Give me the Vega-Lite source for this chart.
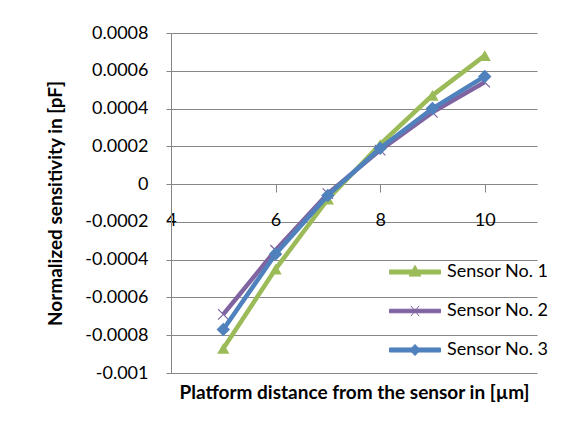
{
  "$schema": "https://vega.github.io/schema/vega-lite/v6.json",
  "width": 366,
  "height": 340,
  "autosize": {"type": "none"},
  "padding": {"left": 171, "top": 33, "right": 31, "bottom": 58},
  "background": "white",
  "config": {"view": {"stroke": null}, "font": "Lato"},
  "data": {"values": [
    {"sensor": "Sensor No. 1", "distance": 5, "sensitivity": -0.00087},
    {"sensor": "Sensor No. 1", "distance": 6, "sensitivity": -0.00045},
    {"sensor": "Sensor No. 1", "distance": 7, "sensitivity": -0.00008},
    {"sensor": "Sensor No. 1", "distance": 8, "sensitivity": 0.00021},
    {"sensor": "Sensor No. 1", "distance": 9, "sensitivity": 0.00047},
    {"sensor": "Sensor No. 1", "distance": 10, "sensitivity": 0.00068},
    {"sensor": "Sensor No. 2", "distance": 5, "sensitivity": -0.00069},
    {"sensor": "Sensor No. 2", "distance": 6, "sensitivity": -0.00035},
    {"sensor": "Sensor No. 2", "distance": 7, "sensitivity": -0.00005},
    {"sensor": "Sensor No. 2", "distance": 8, "sensitivity": 0.00018},
    {"sensor": "Sensor No. 2", "distance": 9, "sensitivity": 0.00038},
    {"sensor": "Sensor No. 2", "distance": 10, "sensitivity": 0.00054},
    {"sensor": "Sensor No. 3", "distance": 5, "sensitivity": -0.00077},
    {"sensor": "Sensor No. 3", "distance": 6, "sensitivity": -0.00037},
    {"sensor": "Sensor No. 3", "distance": 7, "sensitivity": -0.00006},
    {"sensor": "Sensor No. 3", "distance": 8, "sensitivity": 0.00019},
    {"sensor": "Sensor No. 3", "distance": 9, "sensitivity": 0.0004},
    {"sensor": "Sensor No. 3", "distance": 10, "sensitivity": 0.00057}
  ]},
  "encoding": {
    "x": {
      "field": "distance", "type": "quantitative",
      "scale": {"domain": [4, 11], "nice": false, "zero": false},
      "axis": {
        "values": [4, 6, 8, 10], "grid": false, "offset": -189,
        "domain": true, "domainColor": "#868686", "domainWidth": 1,
        "ticks": true, "tickColor": "#868686", "tickSize": 8,
        "labelFont": "Lato", "labelFontSize": 18, "labelColor": "#000000",
        "labelBaseline": "middle", "labelPadding": 28, "labelFlush": false,
        "title": "Platform distance from the sensor in [µm]",
        "titleFont": "Lato", "titleFontSize": 19, "titleFontWeight": "bold", "titleColor": "#000000",
        "titleY": 208, "titleBaseline": "middle"
      }
    },
    "y": {
      "field": "sensitivity", "type": "quantitative",
      "scale": {"domain": [-0.001, 0.0008], "nice": false, "zero": false},
      "axis": {
        "values": [-0.001, -0.0008, -0.0006, -0.0004, -0.0002, 0, 0.0002, 0.0004, 0.0006, 0.0008],
        "labelExpr": "datum.value < 0 ? '-' + format(-datum.value, '~g') : format(datum.value, '~g')",
        "grid": true, "gridColor": "#868686", "gridWidth": 1,
        "domain": true, "domainColor": "#868686", "domainWidth": 1,
        "ticks": true, "tickColor": "#868686", "tickSize": 5,
        "labelFont": "Lato", "labelFontSize": 18, "labelColor": "#000000", "labelPadding": 18,
        "title": "Normalized sensitivity in [pF]",
        "titleFont": "Lato", "titleFontSize": 19, "titleFontWeight": "bold", "titleColor": "#000000",
        "titleX": -116, "titleY": 170, "titleBaseline": "middle", "titleAlign": "center", "titleAngle": -90
      }
    },
    "color": {
      "field": "sensor", "type": "nominal",
      "scale": {"domain": ["Sensor No. 1", "Sensor No. 2", "Sensor No. 3"], "range": ["#9BBB59", "#8064A2", "#4F81BD"]},
      "legend": null
    }
  },
  "layer": [
    {
      "transform": [{"filter": "datum.sensor === 'Sensor No. 1'"}],
      "mark": {"type": "line", "strokeWidth": 4.5},
      "encoding": {
        "color": {
          "field": "sensor", "type": "nominal",
          "legend": {
            "orient": "none", "legendX": 218, "legendY": 213, "title": null,
            "direction": "vertical", "padding": 0,
            "labelFont": "Lato", "labelFontSize": 18, "labelColor": "#000000", "labelOffset": 6,
            "rowPadding": 4, "symbolSize": 2601, "symbolStrokeWidth": 1,
            "encode": {
              "symbols": {
                "update": {
                  "shape": {"signal": "datum.value === 'Sensor No. 1' ? 'M-1,-0.08H1V0.08H-1Z M0,-0.26L0.23,0.16H-0.23Z' : datum.value === 'Sensor No. 2' ? 'M-1,-0.07H1V0.07H-1Z M-0.16,-0.2L0.16,0.2 M-0.16,0.2L0.16,-0.2' : 'M-1,-0.08H1V0.08H-1Z M0,-0.22L0.2,0L0,0.22L-0.2,0Z'"},
                  "fill": {"scale": "color", "field": "value"},
                  "stroke": {"scale": "color", "field": "value"},
                  "strokeWidth": {"value": 1},
                  "opacity": {"value": 1}
                }
              }
            }
          }
        }
      }
    },
    {
      "transform": [{"filter": "datum.sensor === 'Sensor No. 1'"}],
      "mark": {"type": "point", "shape": "triangle-up", "filled": true, "opacity": 1, "size": 150}
    },
    {
      "transform": [{"filter": "datum.sensor === 'Sensor No. 2'"}],
      "mark": {"type": "line", "strokeWidth": 4.5}
    },
    {
      "transform": [{"filter": "datum.sensor === 'Sensor No. 2'"}],
      "mark": {"type": "point", "shape": "M-1,-1L1,1M-1,1L1,-1", "filled": false, "opacity": 1, "size": 110, "strokeWidth": 1.2}
    },
    {
      "transform": [{"filter": "datum.sensor === 'Sensor No. 3'"}],
      "mark": {"type": "line", "strokeWidth": 4.5}
    },
    {
      "transform": [{"filter": "datum.sensor === 'Sensor No. 3'"}],
      "mark": {"type": "point", "shape": "diamond", "filled": true, "opacity": 1, "size": 180}
    }
  ]
}
